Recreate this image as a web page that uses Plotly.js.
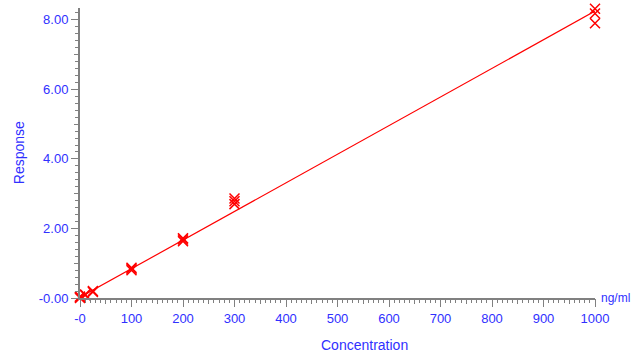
<!DOCTYPE html>
<html><head><meta charset="utf-8">
<script src="https://cdn.plot.ly/plotly-3.0.1.min.js"></script>
<style>html,body{margin:0;padding:0;background:#fff;}#chart{width:641px;height:355px;}</style>
</head><body><div id="chart"></div>
<script>
// Calibration standards (concentration ng/ml) and responses
var concentration = [0, 0, 0, 10, 10, 25, 25, 100, 100, 100, 200, 200, 200, 300, 300, 300, 1000, 1000, 1000];
var response      = [0.00, 0.02, 0.04, 0.08, 0.10, 0.17, 0.20, 0.80, 0.84, 0.87, 1.63, 1.68, 1.72, 2.70, 2.78, 2.86, 7.90, 8.18, 8.32];
// Calibration (fit) line
var fitX = [0, 1000];
var fitY = [0.02, 8.25];
// Tick labels
var xTickVals = [0, 100, 200, 300, 400, 500, 600, 700, 800, 900, 1000];
var xTickText = ['-0', '100', '200', '300', '400', '500', '600', '700', '800', '900', '1000'];
var yTickVals = [0, 2, 4, 6, 8];
var yTickText = ['-0.00', '2.00', '4.00', '6.00', '8.00'];

var blue = '#3030ff';
var axisGray = '#808080';
var font = 'Liberation Sans, Arial, sans-serif';

var traces = [
  {x: fitX, y: fitY, mode: 'lines', line: {color: '#ff0000', width: 1.2}, hoverinfo: 'skip', cliponaxis: false},
  {x: concentration, y: response, mode: 'markers', cliponaxis: false,
   marker: {symbol: 'x-thin', size: 10, line: {color: '#ff0000', width: 1.5}, color: '#ff0000'}}
];

var layout = {
  width: 641, height: 355,
  margin: {l: 80, r: 46, t: 8, b: 57},
  paper_bgcolor: '#ffffff', plot_bgcolor: '#ffffff',
  showlegend: false,
  font: {family: font, color: blue, size: 13},
  xaxis: {
    range: [0, 1000], showgrid: false, zeroline: false,
    showline: true, linecolor: axisGray, linewidth: 2,
    ticks: 'outside', tickcolor: axisGray, ticklen: 7, tickwidth: 1,
    tickvals: xTickVals, ticktext: xTickText,
    tickfont: {family: font, color: blue, size: 13},
    minor: {dtick: 10, ticks: 'outside', ticklen: 3, tickcolor: axisGray, showgrid: false}
  },
  yaxis: {
    range: [0, 8.34], showgrid: false, zeroline: false,
    showline: true, linecolor: axisGray, linewidth: 2,
    ticks: 'outside', tickcolor: axisGray, ticklen: 7, tickwidth: 1,
    tickvals: yTickVals, ticktext: yTickText,
    tickfont: {family: font, color: blue, size: 13},
    minor: {dtick: 0.2, ticks: 'outside', ticklen: 3, tickcolor: axisGray, showgrid: false}
  },
  xaxis2: {
    overlaying: 'x', matches: 'x', range: [0, 1000], showgrid: false, zeroline: false,
    showline: false, ticks: 'outside', tickcolor: axisGray, ticklen: 5, dtick: 50, tick0: 0,
    showticklabels: false, anchor: 'y'
  },
  yaxis2: {
    overlaying: 'y', range: [0, 8.34], showgrid: false, zeroline: false,
    showline: false, ticks: 'outside', tickcolor: axisGray, ticklen: 5, dtick: 1, tick0: 0,
    showticklabels: false, anchor: 'x', side: 'left'
  },
  annotations: [
    {text: 'Concentration', xref: 'paper', yref: 'paper', x: 0.553, y: -0.162, xanchor: 'center', yanchor: 'middle',
     showarrow: false, font: {family: font, color: blue, size: 14}},
    {text: 'Response', xref: 'paper', yref: 'paper', x: -0.118, y: 0.5, xanchor: 'center', yanchor: 'middle',
     textangle: -90, showarrow: false, font: {family: font, color: blue, size: 14}},
    {text: 'ng/ml', xref: 'paper', yref: 'paper', x: 1.008, y: 0.0, xanchor: 'left', yanchor: 'middle',
     showarrow: false, font: {family: font, color: blue, size: 12}}
  ]
};

traces.push({x: [0, 1000], y: [0, 0], xaxis: 'x2', yaxis: 'y2', mode: 'none', hoverinfo: 'skip', showlegend: false});

Plotly.newPlot('chart', traces, layout, {displayModeBar: false, staticPlot: true});
</script></body></html>
